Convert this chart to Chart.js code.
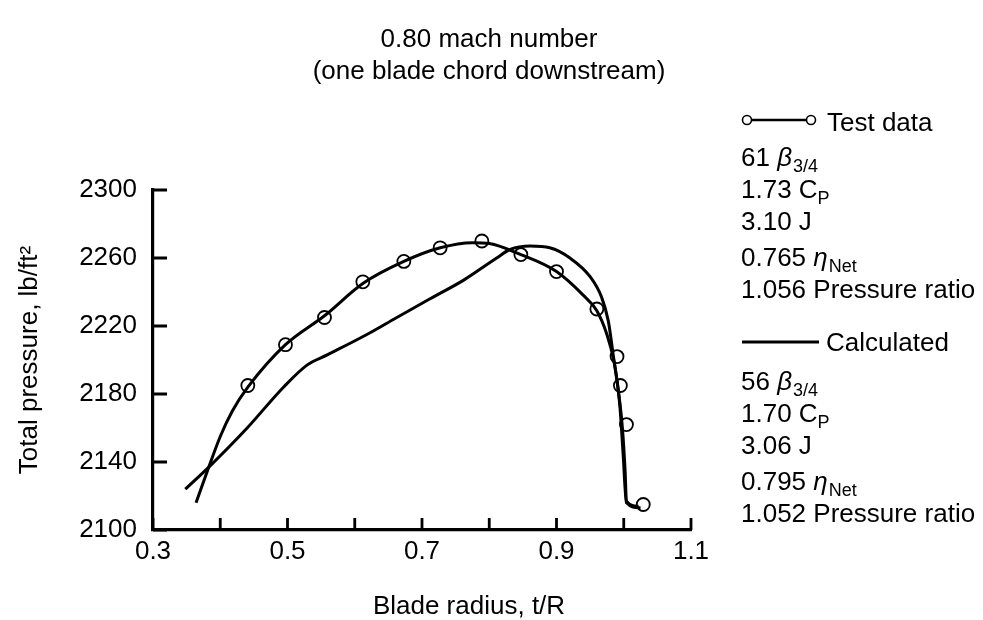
<!DOCTYPE html>
<html lang="en">
<head>
  <meta charset="UTF-8">
  <title>Total pressure vs blade radius</title>
  <script src="https://cdn.jsdelivr.net/npm/chart.js@4"></script>
  <style>
    html, body { margin: 0; padding: 0; background: #fff; }
  </style>
</head>
<body>
  <canvas id="myChart" width="983" height="620"></canvas>

  <script>
    // test data circles (t/R, lb/ft^2)
    var testRadius   = [0.441, 0.497, 0.555, 0.612, 0.673, 0.727, 0.789, 0.847, 0.900, 0.960, 0.990, 0.995, 1.004, 1.029];
    var testPressure = [2185, 2209, 2225, 2246, 2258, 2266, 2270, 2262, 2252, 2230, 2202, 2185, 2162, 2115];

    // faired curve through the test data
    var testFitRadius   = [0.364, 0.383, 0.400, 0.418, 0.441, 0.497, 0.555, 0.612, 0.673, 0.727, 0.775, 0.800, 0.847, 0.900, 0.940, 0.960, 0.975, 0.985, 0.992, 0.998, 1.002, 1.004, 1.022];
    var testFitPressure = [2116, 2137, 2155, 2170, 2184, 2209, 2226, 2245, 2258, 2266, 2269, 2268.5, 2262, 2252, 2238, 2229, 2215, 2200, 2182, 2160, 2135, 2117, 2114];

    // calculated curve
    var calcRadius   = [0.348, 0.383, 0.440, 0.494, 0.529, 0.559, 0.618, 0.658, 0.712, 0.762, 0.811, 0.831, 0.861, 0.890, 0.920, 0.950, 0.967, 0.977, 0.984, 0.994, 0.999, 1.004, 1.025];
    var calcPressure = [2124, 2137, 2160, 2184, 2197, 2203, 2215, 2224, 2236, 2247, 2260, 2265, 2267, 2266, 2260, 2249, 2237, 2223, 2204, 2174, 2145, 2116, 2113];

    var xTicks = [0.3, 0.4, 0.5, 0.6, 0.7, 0.8, 0.9, 1.0, 1.1];
    var xTickLabels = ['0.3', '', '0.5', '', '0.7', '', '0.9', '', '1.1'];
    var yTicks = [2100, 2140, 2180, 2220, 2260, 2300];

    var titleLines = ['0.80 mach number', '(one blade chord downstream)'];
    var xTitle = 'Blade radius, t/R';
    var yTitle = 'Total pressure, lb/ft\u00B2';

    var testInfo = [
      [{t: '61 '}, {t: '\u03B2', it: true}, {t: '3/4', sub: true}],
      [{t: '1.73 C'}, {t: 'P', sub: true}],
      [{t: '3.10 J'}],
      [{t: '0.765 '}, {t: '\u03B7', it: true}, {t: 'Net', sub: true}],
      [{t: '1.056 Pressure ratio'}]
    ];
    var calcInfo = [
      [{t: '56 '}, {t: '\u03B2', it: true}, {t: '3/4', sub: true}],
      [{t: '1.70 C'}, {t: 'P', sub: true}],
      [{t: '3.06 J'}],
      [{t: '0.795 '}, {t: '\u03B7', it: true}, {t: 'Net', sub: true}],
      [{t: '1.052 Pressure ratio'}]
    ];

    var fam = '"Liberation Sans", Arial, Helvetica, sans-serif';
    var fs = 26;
    Chart.defaults.font.family = fam;
    Chart.defaults.color = '#000';

    function pts(xs, ys) {
      return xs.map(function (x, i) { return {x: x, y: ys[i]}; });
    }

    function drawParts(ctx, x, y, parts) {
      parts.forEach(function (p) {
        var size = p.sub ? 18 : fs;
        ctx.font = (p.it ? 'italic ' : '') + size + 'px ' + fam;
        ctx.fillText(p.t, x, y + (p.sub ? 6 : 0));
        x += ctx.measureText(p.t).width + (p.it ? 1 : 0);
      });
    }

    var extras = {
      id: 'extras',
      afterDraw: function (chart) {
        var ctx = chart.ctx;
        var xs = chart.scales.x, ys = chart.scales.y;
        var area = chart.chartArea;
        ctx.save();
        ctx.strokeStyle = '#000';
        ctx.fillStyle = '#000';

        // inward tick marks
        ctx.lineWidth = 2.8;
        ctx.beginPath();
        xTicks.forEach(function (v) {
          var px = xs.getPixelForValue(v);
          ctx.moveTo(px, area.bottom);
          ctx.lineTo(px, area.bottom - 12);
        });
        yTicks.forEach(function (v) {
          var py = ys.getPixelForValue(v);
          ctx.moveTo(area.left, py);
          ctx.lineTo(area.left + 14, py);
        });
        ctx.stroke();

        // title
        ctx.font = fs + 'px ' + fam;
        ctx.textAlign = 'center';
        ctx.textBaseline = 'alphabetic';
        ctx.fillText(titleLines[0], 489, 47);
        ctx.fillText(titleLines[1], 489, 79);

        // x axis title
        ctx.fillText(xTitle, 469, 614);

        // key on the right
        ctx.textAlign = 'left';
        ctx.lineWidth = 2.4;
        ctx.beginPath();
        ctx.moveTo(751, 120);
        ctx.lineTo(807, 120);
        ctx.stroke();
        [747, 811].forEach(function (cx) {
          ctx.beginPath();
          ctx.arc(cx, 120, 4.5, 0, Math.PI * 2);
          ctx.fillStyle = '#fff';
          ctx.fill();
          ctx.lineWidth = 1.6;
          ctx.stroke();
        });
        ctx.fillStyle = '#000';
        ctx.font = fs + 'px ' + fam;
        ctx.fillText('Test data', 827, 131);

        var base = [166, 198, 230, 266, 298];
        testInfo.forEach(function (row, i) { drawParts(ctx, 741, base[i], row); });

        ctx.lineWidth = 2.8;
        ctx.beginPath();
        ctx.moveTo(742, 342);
        ctx.lineTo(819, 342);
        ctx.stroke();
        ctx.font = fs + 'px ' + fam;
        ctx.fillText('Calculated', 826, 351);

        var base2 = [390, 422, 454, 490, 522];
        calcInfo.forEach(function (row, i) { drawParts(ctx, 741, base2[i], row); });

        ctx.restore();
      }
    };

    var ctx = document.getElementById('myChart').getContext('2d');

    var myChart = new Chart(ctx, {
      type: 'line',
      data: {
        datasets: [
          {
            label: 'Test data',
            data: pts(testRadius, testPressure),
            showLine: false,
            pointRadius: 6.5,
            pointBorderWidth: 1.8,
            pointBorderColor: '#000',
            pointBackgroundColor: 'rgba(255,255,255,0)'
          },
          {
            label: 'Test data (faired)',
            data: pts(testFitRadius, testFitPressure),
            borderColor: '#000',
            borderWidth: 3,
            pointRadius: 0,
            cubicInterpolationMode: 'monotone'
          },
          {
            label: 'Calculated',
            data: pts(calcRadius, calcPressure),
            borderColor: '#000',
            borderWidth: 3,
            pointRadius: 0,
            cubicInterpolationMode: 'monotone'
          }
        ]
      },
      options: {
        responsive: false,
        animation: false,
        layout: { padding: { top: 190, right: 292, bottom: 0, left: 0 } },
        scales: {
          x: {
            type: 'linear',
            min: 0.3,
            max: 1.1,
            afterBuildTicks: function (s) { s.ticks = xTicks.map(function (v) { return {value: v}; }); },
            afterFit: function (s) { s.height = 90; },
            grid: { display: false, drawTicks: false },
            border: { display: true, color: '#000', width: 3.2 },
            ticks: {
              color: '#000',
              font: { size: fs },
              padding: 6,
              maxRotation: 0,
              autoSkip: false,
              callback: function (v, i) { return xTickLabels[i]; }
            }
          },
          y: {
            type: 'linear',
            min: 2100,
            max: 2300,
            afterBuildTicks: function (s) { s.ticks = yTicks.map(function (v) { return {value: v}; }); },
            afterFit: function (s) { s.width = 153; },
            grid: { display: false, drawTicks: false },
            border: { display: true, color: '#000', width: 3.2 },
            ticks: {
              color: '#000',
              font: { size: fs },
              padding: 16,
              autoSkip: false,
              callback: function (v) { return String(v); }
            },
            title: {
              display: true,
              text: yTitle,
              color: '#000',
              font: { size: fs },
              padding: { top: 14, bottom: 0 }
            }
          }
        },
        plugins: {
          legend: { display: false },
          tooltip: { enabled: false },
          title: { display: false }
        }
      },
      plugins: [extras]
    });
  </script>
</body>
</html>
